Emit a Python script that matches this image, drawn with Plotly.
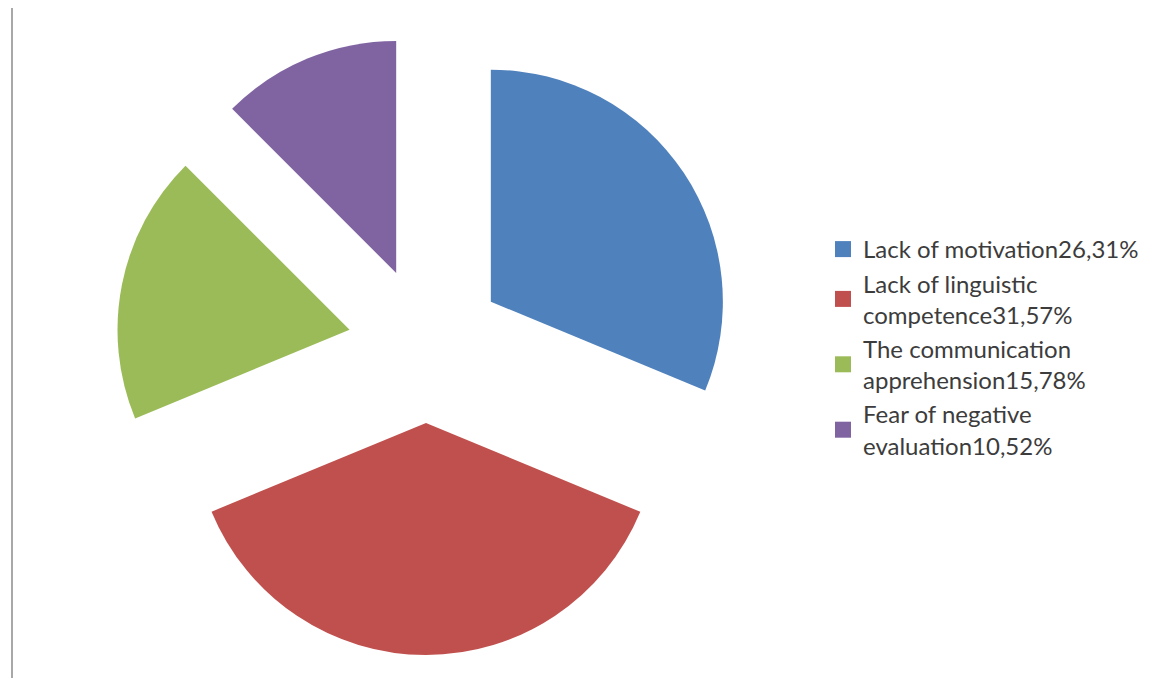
import plotly.graph_objects as go

# Reasons reported for not speaking (share of respondents, %)
labels = [
    "Lack of motivation26,31%",
    "Lack of linguistic<br>competence31,57%",
    "The communication<br>apprehension15,78%",
    "Fear of negative<br>evaluation10,52%",
]
values = [26.31, 31.57, 15.78, 10.52]
colors = ["#4F81BD", "#C0504D", "#9BBB59", "#8064A2"]

W, H = 1155, 678
cx, cy, box = 426, 345, 620  # pie centre and square box (px)

fig = go.Figure(
    go.Pie(
        labels=labels,
        values=values,
        marker=dict(colors=colors, line=dict(width=0)),
        sort=False,
        direction="clockwise",
        rotation=0,
        pull=[0.336] * 4,
        textinfo="none",
        hoverinfo="label+percent",
        showlegend=False,
        domain=dict(
            x=[(cx - box / 2) / W, (cx + box / 2) / W],
            y=[1 - (cy + box / 2) / H, 1 - (cy - box / 2) / H],
        ),
    )
)

# legend keys with larger square swatches
for lab, col in zip(labels, colors):
    fig.add_trace(
        go.Scatter(
            x=[None], y=[None], mode="markers", name=lab,
            marker=dict(symbol="square", size=18, color=col),
            hoverinfo="skip",
        )
    )

# thin grey rule along the left edge
fig.add_shape(
    type="line", xref="paper", yref="paper",
    x0=12 / W, x1=12 / W, y0=0, y1=1 - 8 / H,
    line=dict(color="#a8a8a8", width=2),
)

fig.update_layout(
    width=W,
    height=H,
    margin=dict(l=0, r=0, t=0, b=0),
    paper_bgcolor="white",
    plot_bgcolor="white",
    xaxis=dict(visible=False),
    yaxis=dict(visible=False),
    showlegend=True,
    legend=dict(
        x=(863 - 40) / W,
        xanchor="left",
        y=1 - 227 / H,
        yanchor="top",
        font=dict(family="Lato", size=24, color="#3c3c3c"),
        bgcolor="rgba(0,0,0,0)",
        traceorder="normal",
        itemsizing="trace",
    ),
)

fig.write_html("out.html")
